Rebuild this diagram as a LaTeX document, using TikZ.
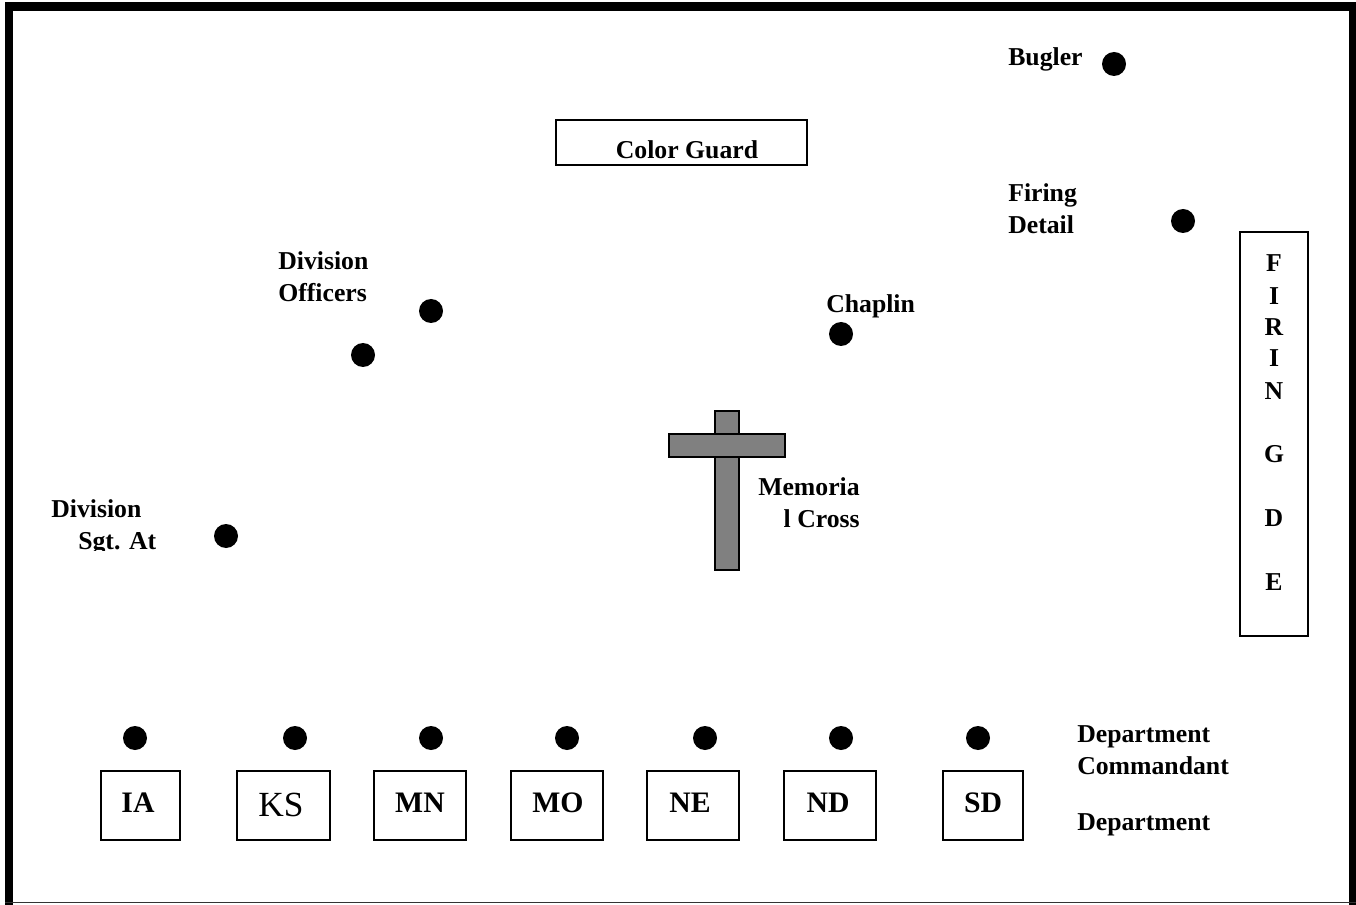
\documentclass[tikz,border=0pt]{standalone}
\usepackage{fontspec}
\setmainfont{Liberation Serif}
\newcommand\lblfont{\fontsize{19.3}{22}\selectfont\bfseries}
\newcommand\boxfont{\fontsize{22.3}{26}\selectfont\bfseries}
\newcommand\ksfont{\fontsize{26.5}{30}\selectfont}
\definecolor{crossgray}{HTML}{808080}
\tikzset{
  dot/.style={circle,fill=black,inner sep=0pt,minimum size=18pt},
  lbl/.style={font=\lblfont,inner sep=0pt},
  deptbox/.style={draw,line width=1.5pt,inner sep=0pt,minimum height=51.5pt},
  boxtxt/.style={font=\boxfont,inner sep=0pt},
  crossbar/.style={draw,line width=1.3pt,fill=crossgray,inner sep=0pt},
}
\begin{document}
\begin{tikzpicture}[x=0.75pt,y=-0.75pt]
\useasboundingbox (0,0) rectangle (1356,905);
% frame
\fill[black] (5,2) rectangle (1356,11);
\fill[black] (5,2) rectangle (13,905);
\fill[black] (1349,2) rectangle (1356,905);
\draw[line width=1.4pt,black!80] (5,902.5) -- (1356,902.5);

% color guard
\node[draw,line width=1.5pt,minimum width=188pt,minimum height=34pt,inner sep=0pt] (cg) at (681.5,142.5) {};
\node[lbl,anchor=base] (cgt) at (687,159) {Color Guard};

% bugler
\node[lbl,anchor=base west] (bugt) at (1008,66) {Bugler};
\node[dot] (bug) at (1114,64) {};

% firing detail
\node[lbl,anchor=base west] (fd1) at (1008,202) {Firing};
\node[lbl,anchor=base west] (fd2) at (1008,234) {Detail};
\node[dot] (fd) at (1183,221) {};

% firing guard box
\node[draw,line width=1.5pt,minimum width=51pt,minimum height=303pt,inner sep=0pt] (fg) at (1274,434) {};
\node[lbl] (fgF) at (1274,263) {F};
\node[lbl] (fgI1) at (1274,296) {I};
\node[lbl] (fgR) at (1274,327) {R};
\node[lbl] (fgI2) at (1274,358) {I};
\node[lbl] (fgN) at (1274,391) {N};
\node[lbl] (fgG) at (1274,454) {G};
\node[lbl] (fgD) at (1274,518) {D};
\node[lbl] (fgE) at (1274,582) {E};
\draw[line width=2.2pt] (1266,636) -- (1281,636);

% division officers
\node[lbl,anchor=base west] (do1) at (278,270) {Division};
\node[lbl,anchor=base west] (do2) at (278,302) {Officers};
\node[dot] (doa) at (431,311) {};
\node[dot] (dob) at (363,355) {};

% chaplin
\node[lbl,anchor=base west] (cht) at (826,313) {Chaplin};
\node[dot] (ch) at (841,334) {};

% cross
\node[crossbar,minimum width=18pt,minimum height=119pt] (crv) at (727,490.5) {};
\node[crossbar,minimum width=87pt,minimum height=17.25pt] (crh) at (727,445.5) {};
\node[lbl,anchor=base west] (mc1) at (758,495) {Memoria};
\node[lbl,anchor=base east] (mc2) at (860,527) {l Cross};

% division sgt at arms
\node[lbl,anchor=base west] (ds1) at (51,517) {Division};
\begin{scope}
\clip (40,520) rectangle (200,550);
\node[lbl,anchor=base west] (ds2) at (78,549) {Sgt. At};
\end{scope}
\node[dot] (ds) at (226,536) {};

% department commandants
\node[dot] (c1) at (135,738) {};
\node[dot] (c2) at (295,738) {};
\node[dot] (c3) at (431,738) {};
\node[dot] (c4) at (567,738) {};
\node[dot] (c5) at (705,738) {};
\node[dot] (c6) at (841,738) {};
\node[dot] (c7) at (978,738) {};

% department boxes
\node[deptbox,minimum width=59pt] (ia) at (140.5,805.5) {};
\node[deptbox,minimum width=69.5pt] (ks) at (283.5,805.5) {};
\node[deptbox,minimum width=69pt] (mn) at (420,805.5) {};
\node[deptbox,minimum width=69pt] (mo) at (557,805.5) {};
\node[deptbox,minimum width=69pt] (ne) at (693,805.5) {};
\node[deptbox,minimum width=69pt] (nd) at (830,805.5) {};
\node[deptbox,minimum width=60pt] (sd) at (983,805.5) {};
\node[boxtxt] (iat) at (138,803) {IA};
\node[font=\ksfont,inner sep=0pt] (kst) at (281,805) {KS};
\node[boxtxt] (mnt) at (420,803) {MN};
\node[boxtxt] (mot) at (558,803) {MO};
\node[boxtxt] (net) at (690,803) {NE};
\node[boxtxt] (ndt) at (828,803) {ND};
\node[boxtxt] (sdt) at (983,803) {SD};

% right legend
\node[lbl,anchor=base west] (lg1) at (1077,742) {Department};
\node[lbl,anchor=base west] (lg2) at (1077,774) {Commandant};
\node[lbl,anchor=base west] (lg3) at (1077,830) {Department};
\end{tikzpicture}
\end{document}
